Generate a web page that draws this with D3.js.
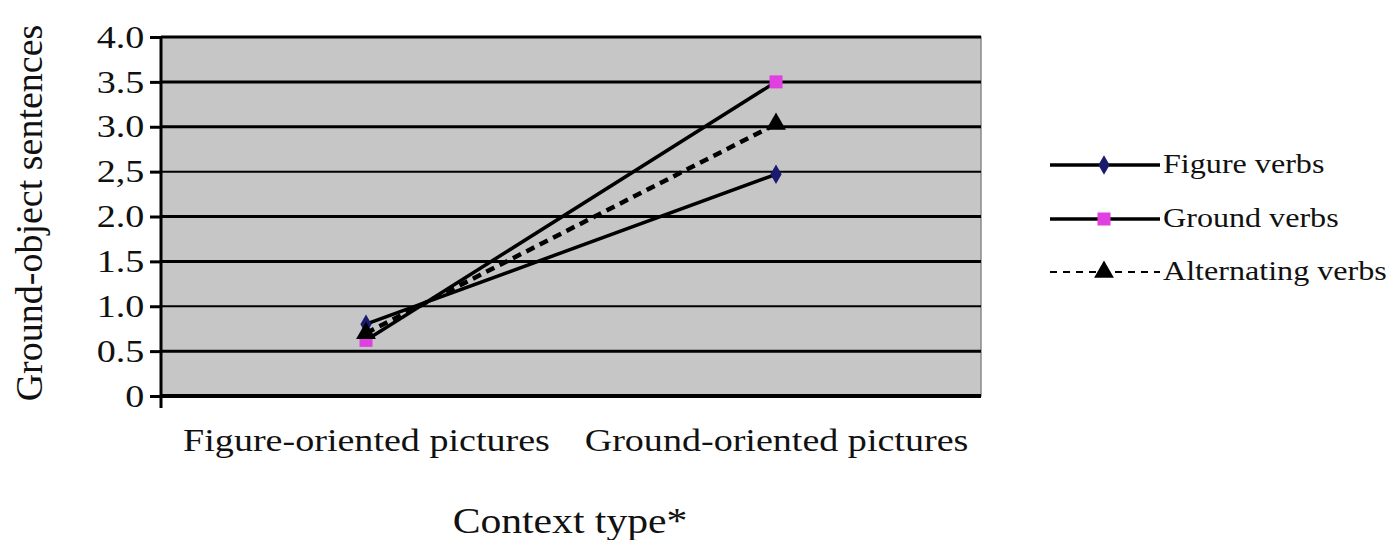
<!DOCTYPE html>
<html><head><meta charset="utf-8">
<script src="https://cdn.jsdelivr.net/npm/d3@7"></script>
<style>body{margin:0;background:#fff}svg{display:block}text{font-family:"Liberation Serif","Times New Roman",serif;fill:#111}</style>
</head><body><svg id="c" width="1396" height="540"></svg>
<script>
const categories = ["Figure-oriented pictures", "Ground-oriented pictures"];
const seriesNames = ["Figure verbs", "Ground verbs", "Alternating verbs"];
const figureVerbs = [0.8, 2.47];
const groundVerbs = [0.62, 3.5];
const alternatingVerbs = [0.7, 3.03];
const yTicks = [0, 0.5, 1.0, 1.5, 2.0, 2.5, 3.0, 3.5, 4.0];
const yTickLabels = ["0", "0.5", "1.0", "1.5", "2.0", "2,5", "3.0", "3.5", "4.0"];

const svg = d3.select("#c");
const L = 161, R = 981, T = 37, B = 396;
const SX = 1.19;
const x = d3.scalePoint().domain(categories).range([L, R]).padding(0.5);
const y = d3.scaleLinear().domain([0, 4]).range([B, T]);

svg.append("rect").attr("x", L).attr("y", T).attr("width", R - L).attr("height", B - T)
  .attr("fill", "#c6c6c6").attr("stroke", "#8a8a8a").attr("stroke-width", 1.5);

// gridlines
svg.append("g").selectAll("line").data(yTicks.filter(d => d > 0)).join("line")
  .attr("x1", L).attr("x2", R).attr("y1", d => y(d)).attr("y2", d => y(d))
  .attr("stroke", "#000").attr("stroke-width", d => (d === 2.5 || d === 1.0) ? 2 : 3);

// y axis
const yAxis = d3.axisLeft(y).tickValues(yTicks).tickSize(11).tickPadding(3)
  .tickFormat((d, i) => yTickLabels[i]);
const gy = svg.append("g").attr("transform", `translate(${L},0)`).call(yAxis);
gy.select(".domain").attr("stroke", "#000").attr("stroke-width", 3).attr("d", `M0,${T}V${B + 12}`);
gy.selectAll(".tick line").attr("stroke", "#000").attr("stroke-width", 3);
gy.selectAll(".tick text").attr("font-size", 32).attr("font-family", "Liberation Serif").attr("fill", "#111")
  .attr("transform", `scale(${SX},1)`);

// x axis
svg.append("line").attr("x1", L).attr("x2", R).attr("y1", B).attr("y2", B).attr("stroke", "#000").attr("stroke-width", 4);
const xAxis = d3.axisBottom(x).tickSize(0).tickPadding(32);
const gx = svg.append("g").attr("transform", `translate(0,${B})`).call(xAxis);
gx.select(".domain").remove();
gx.selectAll(".tick text").attr("font-size", 32).attr("font-family", "Liberation Serif").attr("fill", "#111")
  .attr("transform", `scale(${SX},1)`);

// lines
const line = d3.line().x((d, i) => x(categories[i])).y(d => y(d));
svg.append("path").datum(figureVerbs).attr("d", line).attr("fill", "none").attr("stroke", "#000").attr("stroke-width", 3.5);
svg.append("path").datum(groundVerbs).attr("d", line).attr("fill", "none").attr("stroke", "#000").attr("stroke-width", 3.5);
svg.append("path").datum(alternatingVerbs).attr("d", line).attr("fill", "none").attr("stroke", "#000").attr("stroke-width", 4.5).attr("stroke-dasharray", "9,6");

const diamond = d3.symbol().type(d3.symbolDiamond).size(110);
const square = d3.symbol().type(d3.symbolSquare).size(170);
const tri = d3.symbol().type(d3.symbolTriangle).size(170);
function markers(data, sym, color) {
  svg.append("g").selectAll("path").data(data).join("path")
    .attr("d", sym).attr("fill", color)
    .attr("transform", (d, i) => `translate(${x(categories[i])},${y(d)})`);
}
markers(groundVerbs, square, "#e040e0");
markers(figureVerbs, diamond, "#1a1a6e");
markers(alternatingVerbs, tri, "#000");

// legend
const legendYs = [165, 219, 272];
const lg = svg.append("g");
const styles = [
  {dash: null, sym: diamond, col: "#1a1a6e", w: 3.5},
  {dash: null, sym: square, col: "#e040e0", w: 3.5},
  {dash: "7,6", sym: tri, col: "#000", w: 2}
];
seriesNames.forEach((n, i) => {
  const s = styles[i], yy = legendYs[i];
  lg.append("line").attr("x1", 1050).attr("x2", 1160).attr("y1", yy).attr("y2", yy)
    .attr("stroke", "#000").attr("stroke-width", s.w).attr("stroke-dasharray", s.dash);
  lg.append("path").attr("d", s.sym).attr("fill", s.col).attr("transform", `translate(1104,${yy})`);
  lg.append("text").attr("transform", `translate(1163,${yy + 8}) scale(${SX},1)`).attr("font-size", 27).text(n);
});

// titles
svg.append("text").attr("transform", "translate(42,213) rotate(-90)").attr("text-anchor", "middle")
  .attr("font-size", 38).text("Ground-object sentences");
svg.append("text").attr("transform", `translate(570,533) scale(${SX},1)`).attr("text-anchor", "middle")
  .attr("font-size", 35).text("Context type*");
</script></body></html>
